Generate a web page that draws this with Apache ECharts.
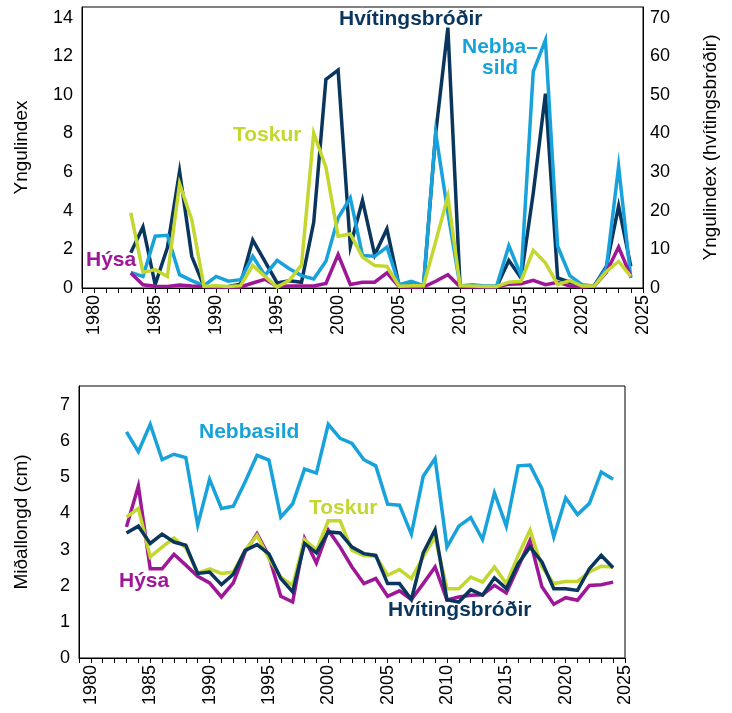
<!DOCTYPE html>
<html>
<head>
<meta charset="utf-8">
<script src="https://cdn.jsdelivr.net/npm/echarts@6/dist/echarts.min.js"></script>
<style>
  html, body { margin: 0; background: #fff; }
  #chart { width: 732px; height: 713px; }
</style>
</head>
<body>
<div id="chart"></div>
<script>
// years on the axis (1979..2025), data runs 1983..2024
const axisYears = []
for (let y = 1979; y <= 2025; y++) axisYears.push(String(y))
const firstYear = 1983

// top panel: ungfiskavisitala (Yngulindex)
const hvitYngul = [9.1, 15.8, 0.9, 10.4, 30.2, 8.2, 0.4, 0.3, 0.4, 1.0, 12.4, 6.9, 1.3, 1.9, 1.5, 17.0, 54, 56.4, 10.8, 22.7, 8.6, 15.3, 0.6, 0.8, 0.4, 40, 67.4, 0.5, 0.4, 0.3, 0.3, 7.1, 2.6, 24.5, 50.3, 2.6, 1.5, 0.6, 0.6, 5.6, 21.2, 5.6]
const nebbaYngul = [0.81, 0.6, 2.68, 2.73, 0.69, 0.38, 0.12, 0.6, 0.35, 0.43, 1.64, 0.65, 1.43, 1.0, 0.64, 0.47, 1.38, 3.63, 4.66, 1.68, 1.64, 2.12, 0.17, 0.35, 0.12, 8.03, 3.9, 0.1, 0.17, 0.1, 0.1, 2.19, 0.64, 11.2, 12.83, 2.16, 0.64, 0.17, 0.1, 1.04, 6.3, 0.52]
const toskurYngul = [3.89, 0.81, 0.95, 0.6, 5.4, 3.54, 0.09, 0.12, 0.08, 0.12, 1.17, 0.6, 0.05, 0.4, 1.19, 8.02, 6.26, 2.68, 2.8, 1.6, 1.16, 1.12, 0.09, 0.12, 0.12, 2.4, 4.75, 0.12, 0.1, 0.08, 0.08, 0.3, 0.35, 1.95, 1.3, 0.17, 0.38, 0.1, 0.1, 0.86, 1.38, 0.6]
const hysaYngul = [0.78, 0.17, 0.09, 0.08, 0.15, 0.1, 0.08, 0.05, 0.05, 0.05, 0.26, 0.45, 0.08, 0.1, 0.1, 0.1, 0.24, 1.73, 0.18, 0.3, 0.3, 0.78, 0.06, 0.05, 0.05, 0.35, 0.69, 0.06, 0.05, 0.05, 0.05, 0.2, 0.22, 0.4, 0.17, 0.3, 0.1, 0.05, 0.1, 0.82, 2.12, 0.6]

// bottom panel: meðallengd (cm)
const nebbaLengd = [6.26, 5.71, 6.47, 5.49, 5.64, 5.55, 3.68, 4.95, 4.14, 4.2, 4.88, 5.61, 5.48, 3.9, 4.27, 5.23, 5.12, 6.47, 6.08, 5.94, 5.49, 5.32, 4.26, 4.23, 3.43, 5.03, 5.52, 3.07, 3.65, 3.89, 3.28, 4.57, 3.65, 5.32, 5.34, 4.69, 3.35, 4.43, 3.97, 4.28, 5.15, 4.95]
const toskurLengd = [3.9, 4.14, 2.8, 3.07, 3.32, 3.05, 2.35, 2.47, 2.34, 2.38, 2.98, 3.4, 2.75, 2.24, 2.01, 3.28, 2.98, 3.8, 3.8, 2.98, 2.84, 2.82, 2.29, 2.45, 2.2, 2.8, 3.35, 1.92, 1.92, 2.24, 2.1, 2.52, 2.06, 2.84, 3.54, 2.52, 2.06, 2.12, 2.12, 2.38, 2.54, 2.52]
const hvitLengd = [3.46, 3.65, 3.17, 3.43, 3.21, 3.12, 2.34, 2.38, 2.03, 2.32, 2.98, 3.14, 2.88, 2.2, 1.83, 3.17, 2.91, 3.49, 3.46, 3.07, 2.89, 2.84, 2.06, 2.06, 1.62, 2.91, 3.55, 1.61, 1.55, 1.89, 1.74, 2.22, 1.92, 2.61, 3.07, 2.66, 1.92, 1.92, 1.87, 2.47, 2.84, 2.5]
const hysaLengd = [3.63, 4.76, 2.47, 2.47, 2.87, 2.57, 2.26, 2.08, 1.69, 2.08, 2.94, 3.44, 2.82, 1.71, 1.55, 3.31, 2.63, 3.54, 3.07, 2.52, 2.06, 2.2, 1.71, 1.86, 1.62, 2.06, 2.52, 1.61, 1.69, 1.74, 1.75, 2.01, 1.8, 2.52, 3.26, 1.97, 1.49, 1.67, 1.6, 2.01, 2.03, 2.1]

// tick labels
const yTopLeftTicks = [0, 2, 4, 6, 8, 10, 12, 14]
const yTopRightTicks = [0, 5, 10, 15, 20, 25, 30, 35, 40, 45, 50, 55, 60, 65, 70]
const yTopRightLabels = [0, 10, 20, 30, 40, 50, 60, 70]
const yBottomTicks = [0, 1, 2, 3, 4, 5, 6, 7]

const NAVY = '#0a365e'
const BLUE = '#17a2db'
const LIME = '#c3d72f'
const PURPLE = '#9d1797'
const FONT = 'Liberation Sans'
const LW = 3.5

// pad a 1983.. series onto the 1979..2025 category axis
function onAxis(values) {
  return axisYears.map(y => {
    const i = Number(y) - firstYear
    return i >= 0 && i < values.length ? values[i] : null
  })
}

function xAxis(gridIndex) {
  return {
    type: 'category',
    gridIndex,
    data: axisYears,
    boundaryGap: false,
    axisLine: { lineStyle: { color: '#000', width: 1 } },
    axisTick: { interval: 0, length: 5, lineStyle: { color: '#000' } },
    axisLabel: {
      interval: (i, v) => Number(v) % 5 === 0,
      rotate: 90,
      margin: 7,
      fontFamily: FONT,
      fontSize: 18,
      color: '#000'
    },
    splitLine: { show: false }
  }
}

function yAxis(opts) {
  return Object.assign({
    type: 'value',
    min: 0,
    axisLine: { show: true, lineStyle: { color: '#000', width: 1 } },
    splitLine: { show: false },
    nameLocation: 'middle',
    nameTextStyle: { fontFamily: FONT, fontSize: 19, color: '#000' }
  }, opts)
}

function line(name, data, xIdx, yIdx, color) {
  return {
    name,
    type: 'line',
    xAxisIndex: xIdx,
    yAxisIndex: yIdx,
    data: onAxis(data),
    symbol: 'none',
    connectNulls: false,
    lineStyle: { color, width: LW, join: 'miter' },
    itemStyle: { color },
    animation: false
  }
}

function label(text, x, y, color) {
  return {
    type: 'text',
    left: x,
    top: y,
    style: { text, fill: color, font: 'bold 21px "' + FONT + '"' }
  }
}

const chart = echarts.init(document.getElementById('chart'))

chart.setOption({
  backgroundColor: '#fff',
  animation: false,
  grid: [
    { left: 82, right: 89, top: 7, bottom: 425, show: true, borderColor: '#000', borderWidth: 1 },
    { left: 79, right: 107, top: 386, bottom: 55, show: true, borderColor: '#000', borderWidth: 1 }
  ],
  xAxis: [xAxis(0), xAxis(1)],
  yAxis: [
    yAxis({
      gridIndex: 0,
      position: 'left',
      max: 14.55,
      interval: 2,
      name: 'Yngulindex',
      nameGap: 51,
      axisTick: { length: 5, lineStyle: { color: '#000' }, customValues: yTopLeftTicks },
      axisLabel: { fontFamily: FONT, fontSize: 18, color: '#000', margin: 9, customValues: yTopLeftTicks }
    }),
    yAxis({
      gridIndex: 0,
      position: 'right',
      max: 72.75,
      interval: 5,
      name: 'Yngulindex (hvítingsbróðir)',
      nameGap: 58,
      axisTick: { length: 5, lineStyle: { color: '#000' }, customValues: yTopRightTicks },
      axisLabel: { fontFamily: FONT, fontSize: 18, color: '#000', margin: 7, customValues: yTopRightLabels }
    }),
    yAxis({
      gridIndex: 1,
      position: 'left',
      max: 7.53,
      interval: 1,
      name: 'Miðallongd (cm)',
      nameGap: 48,
      axisTick: { length: 5, lineStyle: { color: '#000' }, customValues: yBottomTicks },
      axisLabel: { fontFamily: FONT, fontSize: 18, color: '#000', margin: 9, customValues: yBottomTicks }
    })
  ],
  series: [
    line('Hvítingsbróðir', hvitYngul, 0, 1, NAVY),
    line('Nebbasild', nebbaYngul, 0, 0, BLUE),
    line('Hýsa', hysaYngul, 0, 0, PURPLE),
    line('Toskur', toskurYngul, 0, 0, LIME),

    line('Hýsa', hysaLengd, 1, 2, PURPLE),
    line('Toskur', toskurLengd, 1, 2, LIME),
    line('Nebbasild', nebbaLengd, 1, 2, BLUE),
    line('Hvítingsbróðir', hvitLengd, 1, 2, NAVY)
  ],
  graphic: [
    label('Hvítingsbróðir', 339, 9, NAVY),
    label('Nebba–', 462, 37, BLUE),
    label('sild', 482, 58, BLUE),
    label('Toskur', 233, 125, LIME),
    label('Hýsa', 86, 250, PURPLE),

    label('Nebbasild', 199, 422, BLUE),
    label('Toskur', 309, 498, LIME),
    label('Hýsa', 119, 571, PURPLE),
    label('Hvítingsbróðir', 388, 600, NAVY)
  ]
})
</script>
</body>
</html>
